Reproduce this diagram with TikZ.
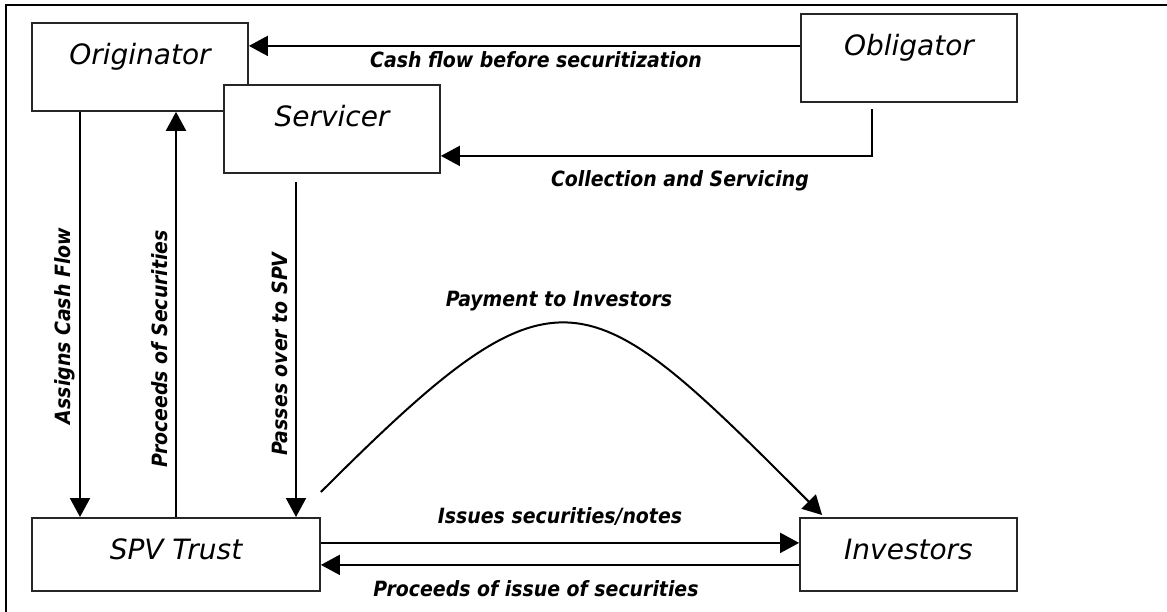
\documentclass[tikz,border=0pt]{standalone}
\usepackage{fontspec}
\setmainfont{DejaVu Sans}
\newfontfamily\labfont{DejaVu Sans Condensed}
\usetikzlibrary{arrows.meta}

\tikzset{
  box/.style={draw=black!85, line width=1.8pt, fill=white,
    minimum width=#1, inner xsep=0pt, inner ysep=0pt,
    font=\itshape\fontsize{28}{34}\selectfont, text height=42pt},
  tallbox/.style={box=#1, text depth=46pt},
  lowbox/.style={box=#1, text depth=31pt},
  arr/.style={line width=2pt, -{Triangle[length=19pt,width=20pt]}},
  lab/.style={font=\labfont\bfseries\itshape\fontsize{21}{25}\selectfont, inner sep=0pt},
  frame/.style={line width=2.5pt, line cap=rect}
}

\begin{document}
\begin{tikzpicture}[x=1pt, y=-1pt]
\useasboundingbox (0,0) rectangle (1167,612);

% page frame (only top and left edges are visible)
\coordinate (frameTL) at (6,5);
\coordinate (frameTR) at (1167,5);
\coordinate (frameBL) at (6,612);
\draw[frame] (frameTR) -- (frameTL) -- (frameBL);

% parties
\node[tallbox=216pt, anchor=north] (orig) at (140,22) {Originator};
\node[tallbox=216pt, anchor=north] (serv) at (332,84) {Servicer};
\node[tallbox=216pt, anchor=north] (obl)  at (909,13) {Obligator};
\node[lowbox=288pt,  anchor=north] (spv)  at (176,517) {SPV Trust};
\node[lowbox=217pt,  anchor=north] (inv)  at (908.5,517) {Investors};

% obligator to originator
\draw[arr] ([yshift=12pt]obl.west) -- ([yshift=12pt]obl.west -| orig.east);
\node[lab, anchor=base] (lCash) at (536,68) {Cash flow before securitization};

% obligator to servicer
\draw[arr] ([xshift=-37pt,yshift=-6pt]obl.south) |- ([yshift=-27pt]serv.east);
\node[lab, anchor=base] (lColl) at (680,187) {Collection and Servicing};

% originator and SPV
\draw[arr] ([xshift=-60pt]orig.south) -- ([xshift=-60pt]orig.south |- spv.north);
\node[lab, rotate=90] (lAssign) at (65,326) {Assigns Cash Flow};
\draw[arr] (spv.north) -- (spv.north |- orig.south);
\node[lab, rotate=90] (lProc) at (160,349) {Proceeds of Securities};

% servicer to SPV
\draw[arr] ([xshift=-36pt,yshift=-8pt]serv.south) -- ([xshift=-36pt]serv.south |- spv.north);
\node[lab, rotate=90] (lPass) at (280,354) {Passes over to SPV};

% SPV and investors
\coordinate (payStart) at ([yshift=25pt]spv.north east);
\draw[arr] (payStart) .. controls +(239,-239) and +(-239,-239) .. ([xshift=23pt,yshift=2pt]inv.north west);
\node[lab, anchor=base] (lPay) at (559,307) {Payment to Investors};

\draw[arr] ([yshift=11.5pt]spv.east) -- ([yshift=11.5pt]spv.east -| inv.west);
\node[lab, anchor=base] (lIssue) at (560,523) {Issues securities/notes};
\draw[arr] ([yshift=-10.5pt]inv.west) -- ([yshift=-10.5pt]inv.west -| spv.east);
\node[lab, anchor=base] (lRet) at (536,596) {Proceeds of issue of securities};
\end{tikzpicture}
\end{document}
